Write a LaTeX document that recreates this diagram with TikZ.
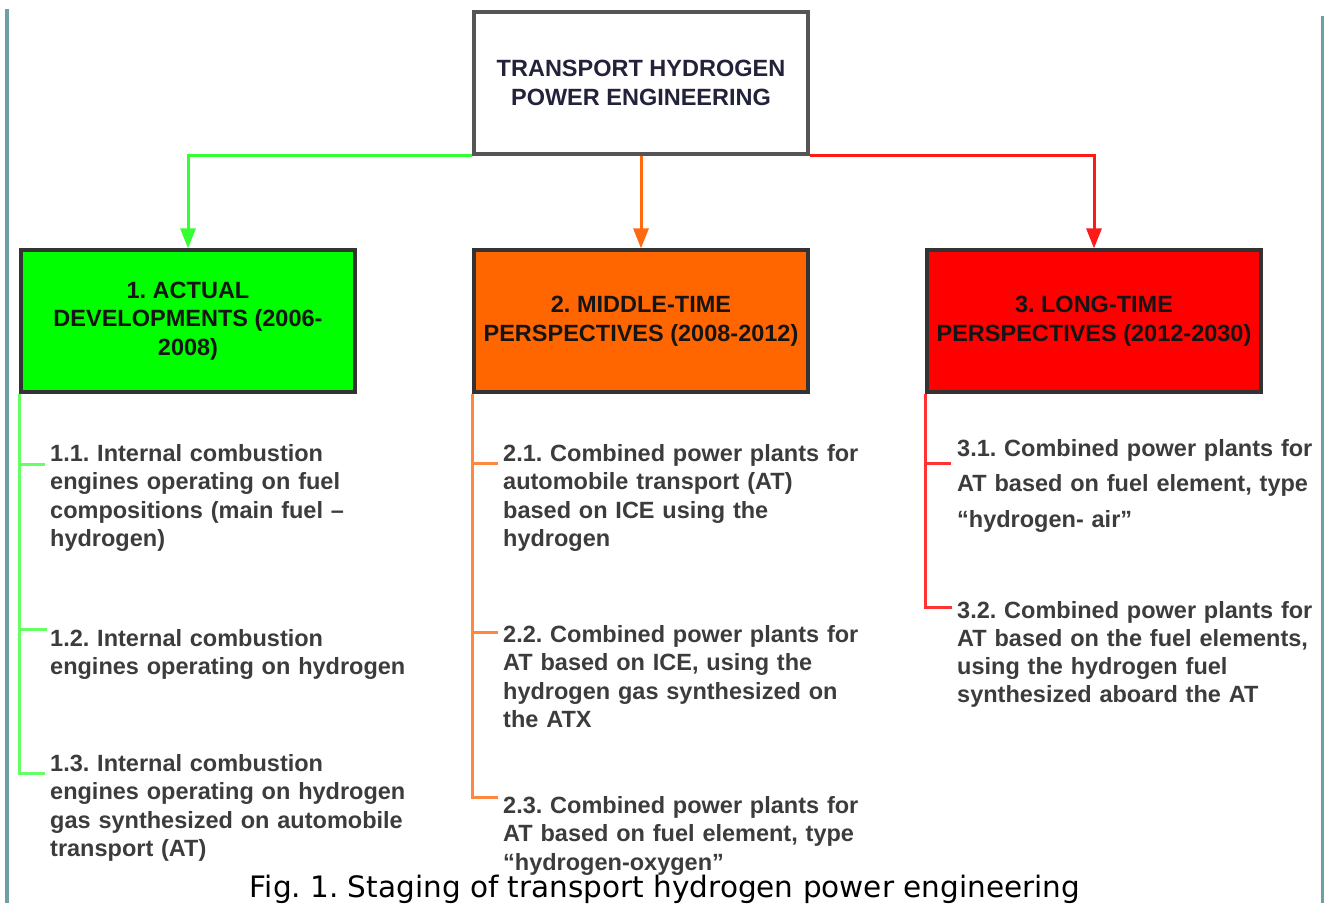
\documentclass[tikz,border=0pt]{standalone}
\usepackage{fontspec}
\setmainfont{Liberation Sans}
\newfontfamily\capfont{DejaVu Sans}
\usetikzlibrary{arrows.meta,shadows}
\frenchspacing
\definecolor{bordergray}{HTML}{6F9FA5}
\definecolor{boxline}{HTML}{333333}
\definecolor{topline}{HTML}{555555}
\definecolor{gfill}{HTML}{00FF00}
\definecolor{ofill}{HTML}{FF6600}
\definecolor{rfill}{HTML}{FF0000}
\definecolor{gcon}{HTML}{33FF33}
\definecolor{ocon}{HTML}{FF6A10}
\definecolor{rcon}{HTML}{FF1A1A}
\definecolor{gbr}{HTML}{66FF66}
\definecolor{obr}{HTML}{FF8840}
\definecolor{rbr}{HTML}{FF3333}
\definecolor{itemtext}{HTML}{3C3C3C}
\definecolor{toptext}{HTML}{22223A}
\definecolor{titletext}{HTML}{151515}
\begin{document}
\begin{tikzpicture}[x=1pt,y=-1pt,
  stagebox/.style={draw=boxline, line width=3.2pt, minimum width=334pt, minimum height=142pt,
    align=center, inner sep=0pt, text=titletext,
    font=\bfseries\fontsize{23.5}{28.5}\selectfont,
    drop shadow={shadow xshift=1.5pt, shadow yshift=-1.5pt, opacity=0.35, fill=black}},
  topbox/.style={stagebox, draw=topline, fill=white, text=toptext},
  item/.style={anchor=base west, inner sep=0pt, text width=400pt, align=left, text=itemtext,
    font=\bfseries\fontsize{23.5}{28.3}\selectfont},
  con/.style={line width=3pt, -{Triangle[length=20pt,width=15pt]}},
  branch/.style={line width=3pt},
  frame/.style={draw=bordergray, line width=3.2pt}
]
\useasboundingbox (0,0) rectangle (1325,903);
% page borders
\coordinate (bl1) at (7,9);
\coordinate (bl2) at (7,903);
\coordinate (br1) at (1322.5,16);
\coordinate (br2) at (1322.5,903);
\draw[frame] (bl1) -- (bl2);
\draw[frame] (br1) -- (br2);

% boxes
\node[topbox] (top) at (641,83) {TRANSPORT HYDROGEN\\POWER ENGINEERING};
\node[stagebox, fill=gfill] (gbox) at (188,321) {1. ACTUAL\\DEVELOPMENTS (2006-\\2008)};
\node[stagebox, fill=ofill] (obox) at (641,321) {2. MIDDLE-TIME\\PERSPECTIVES (2008-2012)};
\node[stagebox, fill=rfill] (rbox) at (1094,321) {3. LONG-TIME\\PERSPECTIVES (2012-2030)};

% connectors
\draw[con, gcon] (top.south west) -| (gbox.north);
\draw[con, ocon] (top.south) -- (obox.north);
\draw[con, rcon] (top.south east) -| (rbox.north);

% items
\node[item] (i11) at (50,461.5) {1.1. Internal combustion\\engines operating on fuel\\compositions (main fuel –\\hydrogen)};
\node[item] (i12) at (50,646.5) {1.2. Internal combustion\\engines operating on hydrogen};
\node[item] (i13) at (50,771.5) {1.3. Internal combustion\\engines operating on hydrogen\\gas synthesized on automobile\\transport (AT)};

\node[item] (i21) at (503,461.5) {2.1. Combined power plants for\\automobile transport (AT)\\based on ICE using the\\hydrogen};
\node[item] (i22) at (503,642.5) {2.2. Combined power plants for\\AT based on ICE, using the\\hydrogen gas synthesized on\\the ATX};
\node[item] (i23) at (503,813.5) {2.3. Combined power plants for\\AT based on fuel element, type\\“hydrogen-oxygen”};

\node[item, font=\bfseries\fontsize{23.5}{35.5}\selectfont] (i31) at (957,456) {3.1. Combined power plants for\\AT based on fuel element, type\\“hydrogen- air”};
\node[item] (i32) at (957,618) {3.2. Combined power plants for\\AT based on the fuel elements,\\using the hydrogen fuel\\synthesized aboard the AT};

% branch lines
\coordinate (g1) at (45,464);
\coordinate (g2) at (47,629);
\coordinate (g3) at (45,773);
\draw[branch, gbr] (gbox.south west) |- (g3);
\draw[branch, gbr] (gbox.south west |- g1) -- (g1);
\draw[branch, gbr] (gbox.south west |- g2) -- (g2);

\coordinate (o1) at (498,463);
\coordinate (o2) at (498,632);
\coordinate (o3) at (498,797);
\draw[branch, obr] (obox.south west) |- (o3);
\draw[branch, obr] (obox.south west |- o1) -- (o1);
\draw[branch, obr] (obox.south west |- o2) -- (o2);

\coordinate (r1) at (951,463);
\coordinate (r2) at (952,607);
\draw[branch, rbr] (rbox.south west) |- (r2);
\draw[branch, rbr] (rbox.south west |- r1) -- (r1);

% caption
\node[anchor=base, inner sep=0pt, font=\capfont\fontsize{29.5}{33}\selectfont] (cap) at (665,897)
  {Fig. 1. Staging of transport hydrogen power engineering};
\end{tikzpicture}
\end{document}
